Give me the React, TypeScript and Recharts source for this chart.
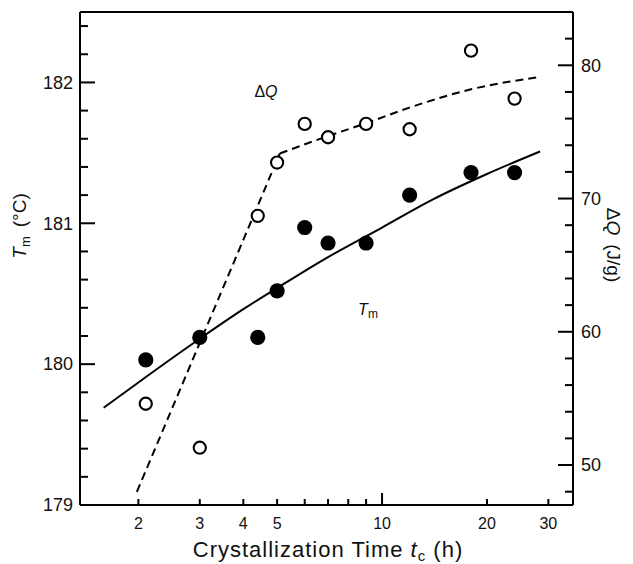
import React from 'react';
import { ComposedChart, XAxis, YAxis, Line, Scatter, ReferenceLine } from 'recharts';

// Measured data (crystallization time in h)
const times = [2.1, 3, 4.4, 5, 6, 7, 9, 12, 18, 24];
const tmValues = [180.03, 180.19, 180.19, 180.52, 180.97, 180.86, 180.86, 181.2, 181.36, 181.36];
const dqValues = [54.6, 51.3, 68.7, 72.7, 75.6, 74.6, 75.6, 75.2, 81.1, 77.5];

// Fitted curves
const tmFitTimes = [1.59, 2, 3, 4, 5, 7, 10, 14, 20, 28.4];
const tmFitValues = [179.69, 179.87, 180.18, 180.39, 180.54, 180.76, 180.97, 181.17, 181.35, 181.51];
const dqSteepTimes = [1.98, 5.09];
const dqSteepValues = [47.99, 73.38];
const dqUpperTimes = [5.09, 6.98, 8.96, 11.98, 18, 27.9];
const dqUpperValues = [73.38, 74.68, 75.64, 76.82, 78.2, 79.1];

// Axis ticks
const xTicks = [2, 3, 4, 5, 6, 7, 8, 9, 10, 20, 30];
const xLabels = [2, 3, 4, 5, 10, 20, 30];
const tmTicks = [179, 179.2, 179.4, 179.6, 179.8, 180, 180.2, 180.4, 180.6, 180.8, 181, 181.2, 181.4, 181.6, 181.8, 182, 182.2, 182.4];
const dqTicks = [48, 50, 52, 54, 56, 58, 60, 62, 64, 66, 68, 70, 72, 74, 76, 78, 80, 82];

const FONT = '"Liberation Sans", Arial, sans-serif';

const tmPoints = times.map((t, i) => ({ t, y: tmValues[i] }));
const dqPoints = times.map((t, i) => ({ t, y: dqValues[i] }));
const tmFit = tmFitTimes.map((t, i) => ({ t, y: tmFitValues[i] }));
const dqSteep = dqSteepTimes.map((t, i) => ({ t, y: dqSteepValues[i] }));
const dqUpper = dqUpperTimes.map((t, i) => ({ t, y: dqUpperValues[i] }));

const XTick = (props: any) => {
  const { x, y, payload } = props;
  const v = payload.value;
  const len = v === 10 ? 12 : 6;
  return (
    <g>
      <line x1={x} x2={x} y1={y} y2={y - len} stroke="#000" strokeWidth={2} />
      {xLabels.includes(v) && (
        <text x={x} y={y + 23.5} textAnchor="middle" fontSize={16} fontFamily={FONT} fill="#111">
          {v}
        </text>
      )}
    </g>
  );
};

const LeftTick = (props: any) => {
  const { x, y, payload } = props;
  const v = payload.value;
  const major = Math.abs(v - Math.round(v)) < 1e-6;
  return (
    <g>
      <line x1={x} x2={x + (major ? 15 : 8)} y1={y} y2={y} stroke="#000" strokeWidth={2} />
      {major && (
        <text x={x - 7} y={y + 6.3} textAnchor="end" fontSize={18} fontFamily={FONT} fill="#111">
          {Math.round(v)}
        </text>
      )}
    </g>
  );
};

const RightTick = (props: any) => {
  const { x, y, payload } = props;
  const v = payload.value;
  const major = v % 10 === 0;
  return (
    <g>
      <line x1={x} x2={x - (major ? 15 : 8)} y1={y} y2={y} stroke="#000" strokeWidth={2} />
      {major && (
        <text x={x + 8} y={y + 6.3} textAnchor="start" fontSize={18} fontFamily={FONT} fill="#111">
          {v}
        </text>
      )}
    </g>
  );
};

const FilledDot = (p: any) => <circle cx={p.cx} cy={p.cy} r={7.6} fill="#000" />;
const OpenDot = (p: any) => (
  <circle cx={p.cx} cy={p.cy} r={6.1} fill="#fff" stroke="#000" strokeWidth={2.1} />
);

export default function App() {
  return (
    <div style={{ position: 'absolute', left: 0, top: 0, width: 633, height: 564, background: '#fff' }}>
      <ComposedChart width={633} height={564} margin={{ top: 12, right: 0, bottom: 0, left: 0 }}>
        <XAxis
          dataKey="t"
          type="number"
          scale="log"
          domain={[1.36, 35.3]}
          allowDataOverflow
          ticks={xTicks}
          interval={0}
          height={59}
          tickSize={0}
          tickMargin={0}
          tickLine={false}
          tick={<XTick />}
          axisLine={{ stroke: '#000', strokeWidth: 2 }}
        />
        <YAxis
          yAxisId="left"
          orientation="left"
          type="number"
          domain={[179, 182.5]}
          allowDataOverflow
          ticks={tmTicks}
          interval={0}
          width={80}
          tickSize={0}
          tickMargin={0}
          tickLine={false}
          tick={<LeftTick />}
          axisLine={{ stroke: '#000', strokeWidth: 2 }}
        />
        <YAxis
          yAxisId="right"
          orientation="right"
          type="number"
          domain={[47, 84]}
          allowDataOverflow
          ticks={dqTicks}
          interval={0}
          width={60}
          tickSize={0}
          tickMargin={0}
          tickLine={false}
          tick={<RightTick />}
          axisLine={{ stroke: '#000', strokeWidth: 2 }}
        />
        <ReferenceLine yAxisId="left" y={182.5} stroke="#000" strokeWidth={2} />
        <Line
          yAxisId="left"
          data={tmFit}
          dataKey="y"
          type="monotone"
          stroke="#000"
          strokeWidth={2}
          dot={false}
          activeDot={false}
          isAnimationActive={false}
        />
        <Line
          yAxisId="right"
          data={dqSteep}
          dataKey="y"
          type="linear"
          stroke="#000"
          strokeWidth={2}
          strokeDasharray="8 5"
          dot={false}
          activeDot={false}
          isAnimationActive={false}
        />
        <Line
          yAxisId="right"
          data={dqUpper}
          dataKey="y"
          type="monotone"
          stroke="#000"
          strokeWidth={2}
          strokeDasharray="8 5"
          dot={false}
          activeDot={false}
          isAnimationActive={false}
        />
        <Scatter yAxisId="left" data={tmPoints} dataKey="y" shape={FilledDot} isAnimationActive={false} />
        <Scatter yAxisId="right" data={dqPoints} dataKey="y" shape={OpenDot} isAnimationActive={false} />
      </ComposedChart>
      <svg
        width={633}
        height={564}
        style={{ position: 'absolute', left: 0, top: 0, pointerEvents: 'none' }}
        fontFamily={FONT}
      >
        <text transform="translate(26,226) rotate(-90)" textAnchor="middle" fontSize={19} fill="#111">
          <tspan fontStyle="italic">T</tspan>
          <tspan fontSize={13} dy={4}>m</tspan>
          <tspan dy={-4} dx={9}>(°C)</tspan>
        </text>
        <text transform="translate(607,245) rotate(90)" textAnchor="middle" fontSize={19} fill="#111">
          <tspan>Δ</tspan>
          <tspan fontStyle="italic">Q</tspan>
          <tspan dx={9}>(J/g)</tspan>
        </text>
        <text x={328} y={557} textAnchor="middle" fontSize={22} letterSpacing={1} fill="#111">
          <tspan>Crystallization Time </tspan>
          <tspan fontStyle="italic">t</tspan>
          <tspan fontSize={15} dy={4}>c</tspan>
          <tspan dy={-4}> (h)</tspan>
        </text>
        <text x={266} y={97} textAnchor="middle" fontSize={16} fill="#111">
          <tspan>Δ</tspan>
          <tspan fontStyle="italic">Q</tspan>
        </text>
        <text x={368} y={315} textAnchor="middle" fontSize={16} fill="#111">
          <tspan fontStyle="italic">T</tspan>
          <tspan fontSize={12} dy={3}>m</tspan>
        </text>
      </svg>
    </div>
  );
}
